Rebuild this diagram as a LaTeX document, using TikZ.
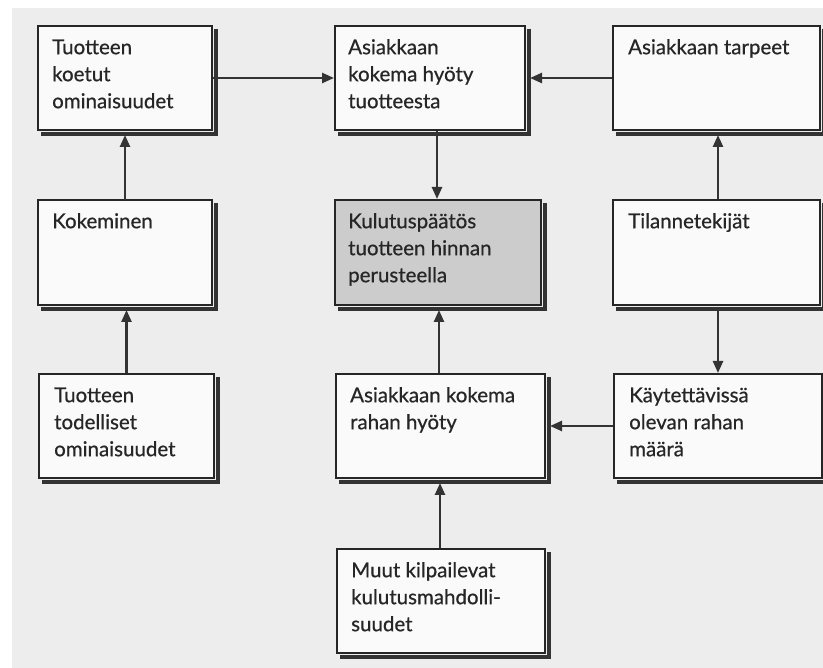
\documentclass[tikz,border=0pt]{standalone}
\usepackage{fontspec}
\setmainfont{Lato}[FakeBold=0.6]
\usetikzlibrary{arrows.meta}
\begin{document}
\begin{tikzpicture}[x=1pt,y=-1pt,
  box/.style={draw=black!85, line width=2pt, fill=black!2, anchor=north west, inner sep=0pt},
  shadowline/.style={draw=black!80, line width=4pt},
  lbl/.style={anchor=north west, inner sep=0pt, align=left,
    font=\fontsize{20.5}{27}\selectfont, text=black!85},
  arr/.style={line width=2.4pt, draw=black!80, -{Triangle[length=12pt,width=10pt]}}]
\useasboundingbox (0,0) rectangle (823,668);
\fill[white] (0,0) rectangle (823,668);
\fill[black!7] (12,8) rectangle (823,668);
% boxes
\node[box, minimum width=174pt, minimum height=104pt] (b1) at (37,25) {};
\node[box, minimum width=190pt, minimum height=104pt] (b2) at (334,25) {};
\node[box, minimum width=207pt, minimum height=104pt] (b3) at (612,25) {};
\node[box, minimum width=174pt, minimum height=105pt] (b4) at (37,199) {};
\node[box, minimum width=206pt, minimum height=105pt, fill=black!20] (b5) at (334,199) {};
\node[box, minimum width=207pt, minimum height=105pt] (b6) at (612,199) {};
\node[box, minimum width=175pt, minimum height=104pt] (b7) at (38,373) {};
\node[box, minimum width=209pt, minimum height=104pt] (b8) at (335,373) {};
\node[box, minimum width=208pt, minimum height=104pt] (b9) at (613,373) {};
\node[box, minimum width=208pt, minimum height=104pt] (b10) at (336,548) {};
% shadows on right and bottom edges
\foreach \bx in {b1,b2,b3,b4,b5,b6,b7,b8,b9,b10}{
  \draw[shadowline] ([shift={(3,4)}]\bx.north east) -- ([shift={(3,3)}]\bx.south east) -- ([shift={(4,3)}]\bx.south west);
}
% labels
\node[lbl] (t1) at ([shift={(15,9)}]b1.north west) {\rule{0pt}{20pt}Tuotteen\\koetut\\ominaisuudet};
\node[lbl] (t2) at ([shift={(14,9)}]b2.north west) {\rule{0pt}{20pt}Asiakkaan\\kokema hyöty\\tuotteesta};
\node[lbl] (t3) at ([shift={(16,9)}]b3.north west) {\rule{0pt}{20pt}Asiakkaan tarpeet};
\node[lbl] (t4) at ([shift={(15,9)}]b4.north west) {\rule{0pt}{20pt}Kokeminen};
\node[lbl] (t5) at ([shift={(14,9)}]b5.north west) {\rule{0pt}{20pt}Kulutuspäätös\\tuotteen hinnan\\perusteella};
\node[lbl] (t6) at ([shift={(16,9)}]b6.north west) {\rule{0pt}{20pt}Tilannetekijät};
\node[lbl] (t7) at ([shift={(16,9)}]b7.north west) {\rule{0pt}{20pt}Tuotteen\\todelliset\\ominaisuudet};
\node[lbl] (t8) at ([shift={(15,9)}]b8.north west) {\rule{0pt}{20pt}Asiakkaan kokema\\rahan hyöty};
\node[lbl] (t9) at ([shift={(16,9)}]b9.north west) {\rule{0pt}{20pt}Käytettävissä\\olevan rahan\\määrä};
\node[lbl] (t10) at ([shift={(15,9)}]b10.north west) {\rule{0pt}{20pt}Muut kilpailevat\\kulutusmahdolli-\\suudet};
% arrows
\draw[arr] (b1.east) -- (b2.west);
\draw[arr] (b3.west) -- ([xshift=4pt]b2.east);
\draw[arr] ([xshift=103pt]b2.south west) -- ([xshift=103pt]b5.north west);
\draw[arr] ([yshift=-1pt]b4.north) -- ([yshift=-4pt]b1.south);
\draw[arr] (b7.north) -- ([yshift=-4pt]b7.north |- b4.south);
\draw[arr] ([xshift=106pt]b6.north west) -- ([xshift=106pt,yshift=-4pt]b3.south west);
\draw[arr] ([xshift=106pt,yshift=-4pt]b6.south west) -- ([xshift=105pt]b9.north west);
\draw[arr] ([xshift=104pt]b8.north west) -- ([xshift=105pt,yshift=-4pt]b5.south west);
\draw[arr] (b9.west) -- ([xshift=4pt]b8.east);
\draw[arr] ([xshift=104pt]b10.north west) -- ([xshift=105pt,yshift=-4pt]b8.south west);
\end{tikzpicture}
\end{document}
